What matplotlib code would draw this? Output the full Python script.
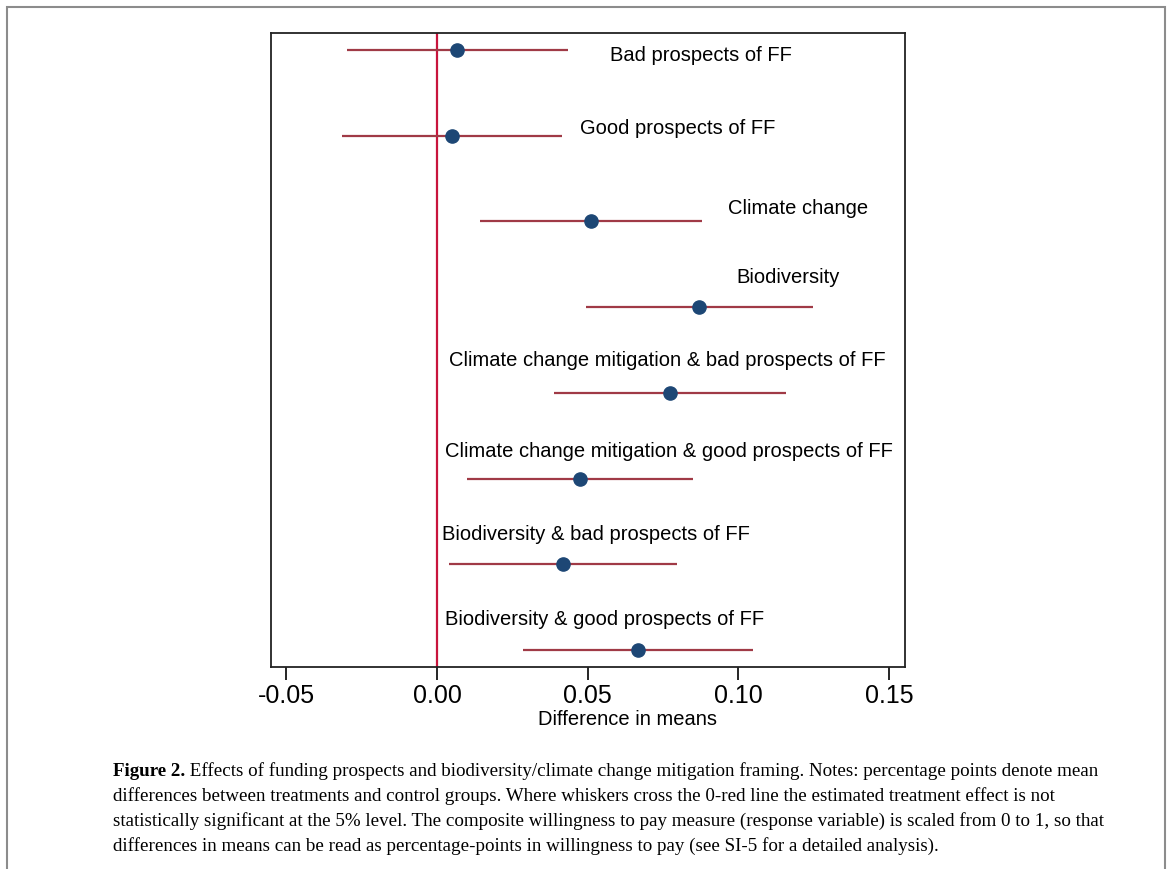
import matplotlib.pyplot as plt
from matplotlib.patches import Rectangle

# treatment effects (difference in means vs control) with 95% CI
labels = [
    "Bad prospects of FF",
    "Good prospects of FF",
    "Climate change",
    "Biodiversity",
    "Climate change mitigation & bad prospects of FF",
    "Climate change mitigation & good prospects of FF",
    "Biodiversity & bad prospects of FF",
    "Biodiversity & good prospects of FF",
]
means = [0.0066, 0.0050, 0.0511, 0.0870, 0.0773, 0.0475, 0.0418, 0.0667]
ci_low = [-0.0299, -0.0315, 0.0143, 0.0495, 0.0388, 0.0100, 0.0040, 0.0285]
ci_high = [0.0435, 0.0415, 0.0880, 0.1248, 0.1158, 0.0850, 0.0797, 0.1049]

# where the labels sit (Stata coefplot style, placed by hand)
label_x = [0.0574, 0.0475, 0.0966, 0.0992, 0.0040, 0.0027, 0.0017, 0.0027]
label_dy = [0.06, -0.08, -0.15, -0.35, -0.38, -0.31, -0.35, -0.36]

xticks = [-0.05, 0.0, 0.05, 0.10, 0.15]

fig = plt.figure(figsize=(11.72, 8.69), dpi=100)
ax = fig.add_axes([271 / 1172, 1 - 667 / 869, (905 - 271) / 1172, (667 - 33) / 869])

rows = list(range(1, len(labels) + 1))
ax.hlines(rows, ci_low, ci_high, color="#a03a46", lw=1.6, zorder=2)
ax.plot(means, rows, "o", color="#1d4775", ms=9.5, zorder=3)
ax.axvline(0, color="#c8143c", lw=1.6, zorder=1)

for r, lab, lx, dy in zip(rows, labels, label_x, label_dy):
    ax.text(lx, r + dy, lab, fontsize=14.5, family="Liberation Sans",
            va="center", ha="left")

ax.set_xlim(-0.0551, 0.1553)
ax.set_ylim(8.2, 0.8)
ax.set_yticks([])
ax.set_xticks(xticks)
ax.set_xticklabels([f"{t:.2f}" for t in xticks], family="Liberation Sans", fontsize=18)
ax.tick_params(axis="x", length=9, width=1.2, pad=3)
ax.set_xlabel("Difference in means", family="Liberation Sans", fontsize=14.5, labelpad=4)
ax.xaxis.set_label_coords(0.562, -0.068)
for s in ax.spines.values():
    s.set_linewidth(1.3)
    s.set_color("#222222")

# grey frame around the figure panel
fig.patches.append(Rectangle((7 / 1172, -0.05), (1165 - 7) / 1172, 1 - 7 / 869 + 0.05,
                             transform=fig.transFigure, fill=False,
                             edgecolor="#8c8c8c", lw=1.5))

# caption
caption = [
    "Effects of funding prospects and biodiversity/climate change mitigation framing. Notes: percentage points denote mean",
    "differences between treatments and control groups. Where whiskers cross the 0-red line the estimated treatment effect is not",
    "statistically significant at the 5% level. The composite willingness to pay measure (response variable) is scaled from 0 to 1, so that",
    "differences in means can be read as percentage-points in willingness to pay (see SI-5 for a detailed analysis).",
]
cap_kw = dict(family="Liberation Serif", fontsize=13.7, va="baseline")
y0 = 1 - 776 / 869
bold = fig.text(113 / 1172, y0, "Figure 2.", weight="bold", **cap_kw)
fig.canvas.draw()
fig.text(0, 0, " " + caption[0], transform=bold.get_transform(), **cap_kw).set_position(
    (bold.get_window_extent().x1 / fig.bbox.width, y0))
for i, line in enumerate(caption[1:], start=1):
    fig.text(113 / 1172, y0 - i * 25 / 869, line, **cap_kw)

fig.savefig("out.png", dpi=100)
